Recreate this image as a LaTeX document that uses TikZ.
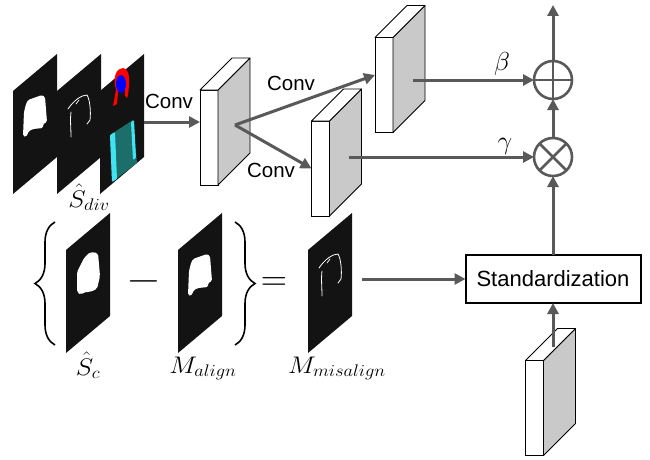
\RequirePackage{fix-cm}
\documentclass[tikz,border=0pt]{standalone}
\usepackage{fontspec}
\setmainfont{Liberation Sans}
\usetikzlibrary{arrows.meta,decorations.pathreplacing}
\definecolor{ar}{HTML}{595959}
\definecolor{sidegray}{HTML}{C9C9C9}
\definecolor{pan}{HTML}{131313}
\definecolor{tealc}{HTML}{1B6E6A}
\definecolor{cyanc}{HTML}{3FE3F2}
\newcommand{\myslab}[3]{%
  \node[slabfront] (#1) at (#2,#3) {};
  \draw[slabside] (#1.north east) -- ++(32,-32) -- ++(0,95) -- (#1.south east) -- cycle;
  \draw[slabtop] (#1.north west) -- ++(32,-32) -- ++(18,0) -- (#1.north east) -- cycle;
}
\newcommand{\mypanel}[3]{%
  \coordinate (#1) at (#2,#3);
  \fill[pan] (#1) -- ++(44,-37) -- ++(0,103) -- ++(-44,37) -- cycle;
}
\newcommand{\shirtshape}{%
  \fill[white, rounded corners=1.5pt] (28,100) -- (42,95) -- (45,97) -- (47,122) -- (43,124) -- (43,128)
    -- (33,129) -- (29,131) -- (26,137) -- (23,136) -- (24,112) -- (26,104) -- cycle;
}
\newcommand{\shirtoutline}{%
  \draw[white, line width=0.8pt, line cap=round] (68,109) .. controls (74,100) and (82,95) .. (87,95)
    .. controls (90,100) and (91,112) .. (90,120) -- (87,124);
  \draw[white, line width=0.8pt, line cap=round] (71,112) .. controls (70,120) and (71,128) .. (71,137);
  \draw[white, line width=0.7pt, line cap=round] (76,104) -- (79,100);
}
\tikzset{
  arr/.style={draw=ar, line width=3pt, -{Triangle[length=11pt,width=11pt]}},
  oplines/.style={draw=ar, line width=2.6pt},
  slabfront/.style={draw=black, fill=white, line width=0.8pt, minimum width=18pt,
    minimum height=95pt, inner sep=0pt, outer sep=0pt},
  slabside/.style={draw=black, fill=sidegray, line width=0.8pt, line join=round},
  slabtop/.style={draw=black, fill=white, line width=0.8pt, line join=round},
  opcirc/.style={circle, draw=ar, line width=2.6pt, minimum size=38pt, inner sep=0pt, outer sep=0pt},
  stdbox/.style={draw=black, line width=2pt, fill=white, minimum width=175pt,
    minimum height=48pt, inner sep=0pt, outer sep=0pt, font=\fontsize{22}{26}\selectfont},
  convlbl/.style={font=\fontsize{20.5}{24}\selectfont, inner sep=0pt},
  mathlbl/.style={font=\fontsize{24}{28}\selectfont, inner sep=0pt},
  greeklbl/.style={font=\fontsize{26}{30}\selectfont, inner sep=0pt},
  bracestyle/.style={draw=black, line width=1.6pt, decorate,
    decoration={brace, amplitude=20pt}},
}
\begin{document}
\begin{tikzpicture}[x=1pt,y=-1pt]
\useasboundingbox (0,0) rectangle (650,460);
% top image panels
\mypanel{P1}{13}{91}
\mypanel{P2}{57}{91}
\mypanel{P3}{100}{91}
\shirtshape
\shirtoutline
% panel 3: parsing colours
\fill[red] (113,106) -- (116,90) .. controls (112,76) and (117,68) .. (123,68)
  .. controls (130,69) and (130,80) .. (128,95) -- (127,98) -- (125,96) -- (125,88)
  -- (118,92) -- (117,104) -- cycle;
\fill[blue] (121,84) ellipse [x radius=5pt, y radius=9pt];
\fill[tealc] (110,135) -- (133,120) -- (137,163) -- (112,182) -- cycle;
\fill[cyanc, rounded corners=1pt] (110,135) -- (115,132) -- (117,179) -- (112,182) -- cycle;
\fill[cyanc, rounded corners=1pt] (131,122) -- (134,120) -- (136,158) -- (133,160) -- cycle;
\node[mathlbl, anchor=base] (sdiv) at (89,207) {\scalebox{1.1}[1]{$\hat{S}_{div}$}};
% bottom panels
\mypanel{P4}{66}{250}
\mypanel{P5}{178}{250}
\mypanel{P6}{308}{250}
\fill[white, rounded corners=2pt] (84,258) -- (90,252) -- (98,253) -- (100,276) -- (97,289)
  -- (90,292) -- (84,292) -- (81,295) -- (77,292) -- (77,272) -- cycle;
\begin{scope}[shift={(165,159)}]
  \shirtshape
\end{scope}
\begin{scope}[shift={(251,159)}]
  \shirtoutline
\end{scope}
\node[mathlbl, anchor=base] (sc) at (88,375) {\scalebox{1.1}[1]{$\hat{S}_{c}$}};
\node[mathlbl, anchor=base] (malign) at (203,373) {\scalebox{1.1}[1]{$M_{align}$}};
\node[mathlbl, anchor=base] (mmis) at (337,373) {\scalebox{1.1}[1]{$M_{misalign}$}};
% braces, minus, equals
\coordinate (lb1) at (55,345);
\coordinate (lb2) at (55,222);
\coordinate (rb1) at (235,222);
\coordinate (rb2) at (235,345);
\draw[bracestyle] (lb1) -- (lb2);
\draw[bracestyle] (rb1) -- (rb2);
\node[font=\fontsize{28}{32}\selectfont, inner sep=0pt] (minus) at (143.5,281) {\scalebox{1.6}[1.3]{$-$}};
\node[font=\fontsize{28}{32}\selectfont, inner sep=0pt] (eq) at (274,284) {\scalebox{1.3}[1.3]{$=$}};
% slabs
\myslab{b1}{209}{137.5}
\myslab{b2}{384}{85}
\myslab{b3}{320.5}{168.5}
\myslab{b4}{534.5}{408}
% operators and box
\node[opcirc] (plus) at (553,80) {};
\node[opcirc] (times) at (553,157) {};
\draw[oplines] (plus.west) -- (plus.east) (plus.north) -- (plus.south);
\draw[oplines] (times.north west) -- (times.south east) (times.north east) -- (times.south west);
\node[stdbox] (std) at (553,279) {Standardization};
% connectors
\coordinate (in1) at ([shift={(44,31)}]P3);
\draw[arr] (in1) -- (b1.west |- in1);
\node[convlbl] (conv1) at (169,101) {Conv};
\coordinate (b1c) at (235,125);
\draw[arr] (b1c) -- ([yshift=10pt]b2.west);
\draw[arr] (b1c) -- (b3.west);
\node[convlbl] (conv2) at (291,83) {Conv};
\node[convlbl] (conv3) at (271,170) {Conv};
\coordinate (b2s) at ([xshift=20pt,yshift=5pt]b2.east);
\draw[arr] (b2s) -- (plus.west);
\node[greeklbl] (beta) at (502,64) {$\beta$};
\coordinate (b3s) at ([xshift=19pt,yshift=11.5pt]b3.east);
\draw[arr] (b3s) -- (times.west);
\node[greeklbl] (gamma) at (505,146) {$\gamma$};
\draw[arr] (times.north) -- (plus.south);
\coordinate (out) at (553,5);
\draw[arr] (plus.north) -- (out);
\draw[arr] (std.north) -- (times.south);
\coordinate (b4t) at (553,347);
\draw[arr] (b4t) -- (std.south);
\coordinate (mis) at ([shift={(54,29)}]P6);
\draw[arr] (mis) -- (std.west);
\end{tikzpicture}
\end{document}
